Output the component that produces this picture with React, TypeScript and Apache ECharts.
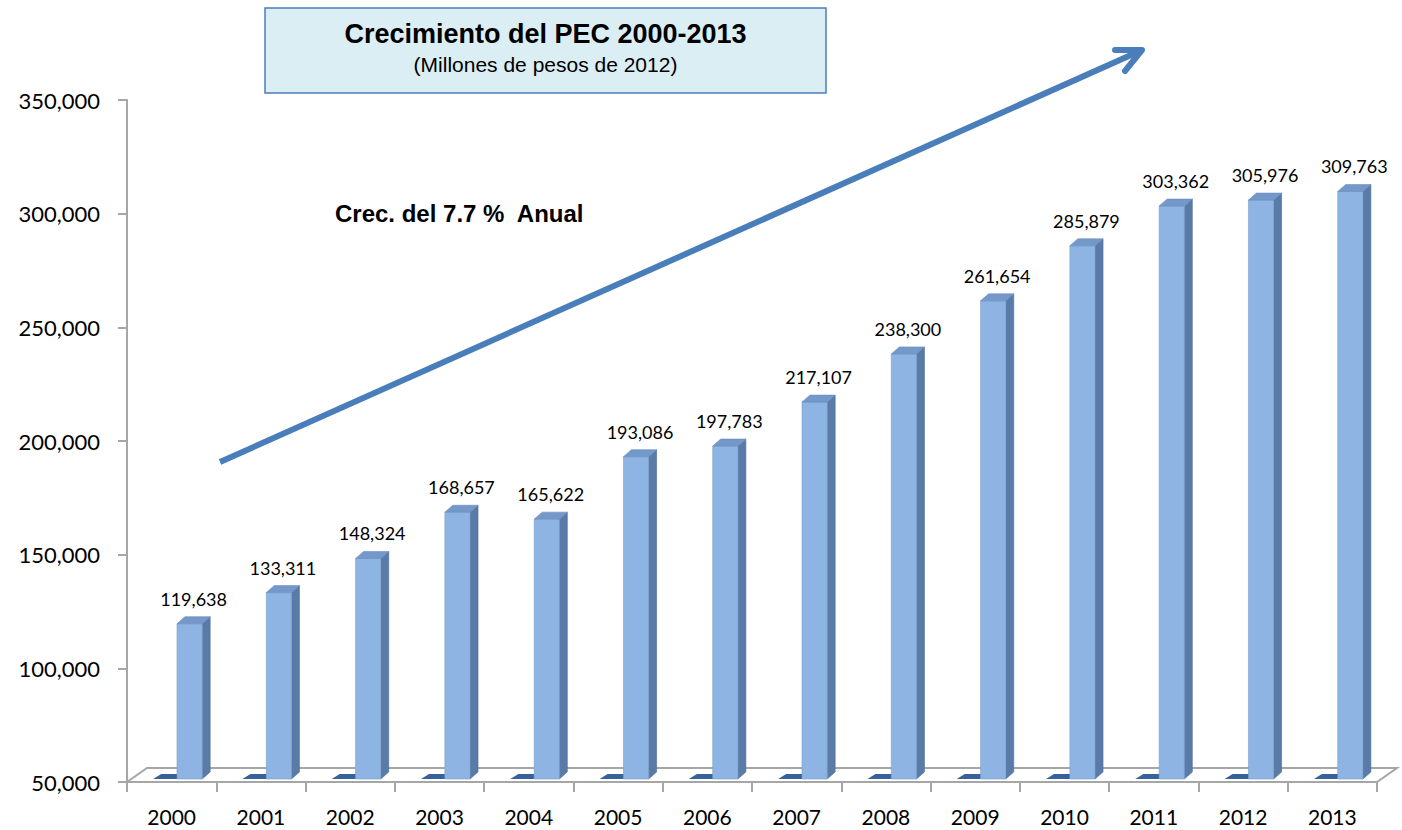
import React, { useEffect, useRef } from "react";
import * as echarts from "echarts";

// ---- Data ----
const years = ["2000", "2001", "2002", "2003", "2004", "2005", "2006", "2007", "2008", "2009", "2010", "2011", "2012", "2013"];
const pecValues = [119638, 133311, 148324, 168657, 165622, 193086, 197783, 217107, 238300, 261654, 285879, 303362, 305976, 309763];
const baseSeriesValues = [0, 0, 0, 0, 0, 0, 0, 0, 0, 0, 0, 0, 0, 0];
const Y_MIN = 50000;
const Y_MAX = 350000;
const Y_INTERVAL = 50000;
const titleText = "Crecimiento del PEC 2000-2013";
const subtitleText = "(Millones de pesos de 2012)";
const growthText = "Crec. del 7.7 %  Anual";

// ---- Layout ----
const W = 1402;
const H = 830;
const GRID_LEFT = 127;
const GRID_RIGHT = 25;
const GRID_TOP = 100;
const GRID_BOTTOM = 48;
const FLOOR_Y = H - GRID_BOTTOM;
const FLOOR_DX = 20;
const FLOOR_DY = 14;
const AXIS_GRAY = "#A6A6A6";
const LABEL_FONT = "Lato";

const fmt = (v: number) => v.toLocaleString("en-US");

export default function App() {
  const ref = useRef<HTMLDivElement>(null);

  useEffect(() => {
    if (!ref.current) return;
    const chart = echarts.init(ref.current, undefined, { renderer: "svg" });

    const renderMainBar = (_params: any, api: any) => {
      const idx = api.value(0);
      const val = api.value(1);
      const top = api.coord([idx, val]);
      const base = api.coord([idx, Y_MIN]);
      const band = api.size([1, 0])[0];
      const x0 = top[0] + band * 0.06;
      const x1 = top[0] + band * 0.342;
      const yb = base[1] - 3;
      const yt = top[1];
      const dx = 8;
      const dy = 7;
      return {
        type: "group",
        children: [
          {
            type: "polygon",
            shape: { points: [[x1, yt], [x1 + dx, yt - dy], [x1 + dx, yb - dy], [x1, yb]] },
            style: { fill: "#5A7BA7", stroke: "#4F6F99", lineWidth: 0.6 },
          },
          {
            type: "rect",
            shape: { x: x0, y: yt, width: x1 - x0, height: yb - yt },
            style: { fill: "#8DB4E2", stroke: "#7B9FCC", lineWidth: 0.6 },
          },
          {
            type: "polygon",
            shape: { points: [[x0, yt], [x0 + dx, yt - dy], [x1 + dx, yt - dy], [x1, yt]] },
            style: { fill: "#7398C9", stroke: "#6A8DBD", lineWidth: 0.6 },
          },
          {
            type: "text",
            style: {
              text: fmt(val),
              x: (x0 + x1 + dx) / 2,
              y: yt - 25,
              align: "center",
              verticalAlign: "middle",
              fill: "#000000",
              fontSize: 18,
              fontFamily: LABEL_FONT,
            },
          },
        ],
      };
    };

    const renderBaseBar = (_params: any, api: any) => {
      const idx = api.value(0);
      const val = Math.max(api.value(1), Y_MIN);
      const base = api.coord([idx, val]);
      const band = api.size([1, 0])[0];
      const x0 = base[0] - band * 0.207;
      const x1 = base[0] + band * 0.06;
      const yb = base[1] - 3;
      const dx = 8;
      const dy = 5;
      return {
        type: "polygon",
        shape: { points: [[x0, yb], [x0 + dx, yb - dy], [x1 + dx, yb - dy], [x1, yb]] },
        style: { fill: "#36619B" },
      };
    };

    const floorPts = [
      [GRID_LEFT, FLOOR_Y],
      [GRID_LEFT + FLOOR_DX, FLOOR_Y - FLOOR_DY],
      [W - GRID_RIGHT + FLOOR_DX, FLOOR_Y - FLOOR_DY],
      [W - GRID_RIGHT, FLOOR_Y],
    ];

    chart.setOption({
      animation: false,
      backgroundColor: "#FFFFFF",
      grid: { left: GRID_LEFT, right: GRID_RIGHT, top: GRID_TOP, bottom: GRID_BOTTOM, containLabel: false },
      xAxis: {
        type: "category",
        data: years,
        boundaryGap: true,
        axisLine: { show: true, lineStyle: { color: AXIS_GRAY, width: 2 } },
        axisTick: { show: true, length: 10, interval: 0, lineStyle: { color: AXIS_GRAY, width: 2 } },
        axisLabel: { color: "#000000", fontSize: 21, fontFamily: LABEL_FONT, margin: 24, interval: 0 },
        splitLine: { show: false },
      },
      yAxis: {
        type: "value",
        min: Y_MIN,
        max: Y_MAX,
        interval: Y_INTERVAL,
        axisLine: { show: true, lineStyle: { color: AXIS_GRAY, width: 2 } },
        axisTick: { show: true, length: 9, lineStyle: { color: AXIS_GRAY, width: 2 } },
        axisLabel: { color: "#000000", fontSize: 22, fontFamily: LABEL_FONT, margin: 27, formatter: (v: number) => fmt(v) },
        splitLine: { show: false },
      },
      graphic: [
        {
          type: "polygon",
          z: 0,
          shape: { points: floorPts },
          style: { fill: "#FFFFFF", stroke: AXIS_GRAY, lineWidth: 2 },
        },
        {
          type: "rect",
          z: 10,
          shape: { x: 265, y: 8, width: 561, height: 85 },
          style: { fill: "#DBEEF4", stroke: "#4A7EBB", lineWidth: 1.5 },
        },
        {
          type: "text",
          z: 11,
          style: {
            text: titleText,
            x: 545.5,
            y: 34,
            align: "center",
            verticalAlign: "middle",
            fontSize: 27,
            fontWeight: "bold",
            fontFamily: "Liberation Sans",
            fill: "#000000",
          },
        },
        {
          type: "text",
          z: 11,
          style: {
            text: subtitleText,
            x: 545.5,
            y: 64,
            align: "center",
            verticalAlign: "middle",
            fontSize: 21,
            fontFamily: "Liberation Sans",
            fill: "#000000",
          },
        },
        {
          type: "text",
          z: 11,
          style: {
            text: growthText,
            x: 335,
            y: 213,
            align: "left",
            verticalAlign: "middle",
            fontSize: 24,
            fontWeight: "bold",
            fontFamily: "Liberation Sans",
            fill: "#000000",
          },
        },
        {
          type: "line",
          z: 12,
          shape: { x1: 220, y1: 462, x2: 1140, y2: 51 },
          style: { stroke: "#4A7EBB", lineWidth: 6, lineCap: "butt" },
        },
        {
          type: "polyline",
          z: 12,
          shape: { points: [[1115, 50], [1142, 50], [1125, 71]] },
          style: { stroke: "#4A7EBB", lineWidth: 6, lineCap: "round", lineJoin: "round", fill: "none" },
        },
      ],
      series: [
        {
          type: "custom",
          name: "Base",
          z: 3,
          renderItem: renderBaseBar,
          data: baseSeriesValues.map((v, i) => [i, v]),
          encode: { x: 0, y: 1 },
        },
        {
          type: "custom",
          name: "PEC",
          z: 4,
          renderItem: renderMainBar,
          data: pecValues.map((v, i) => [i, v]),
          encode: { x: 0, y: 1 },
        },
      ],
    });

    return () => chart.dispose();
  }, []);

  return (
    <div
      ref={ref}
      style={{ position: "fixed", left: 0, top: 0, width: W, height: H, background: "#FFFFFF" }}
    />
  );
}
